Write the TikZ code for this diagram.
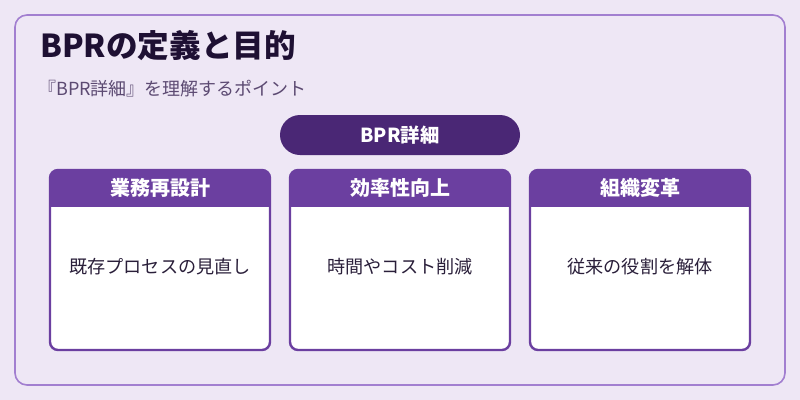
\documentclass[tikz,border=0pt]{standalone}
\usepackage{fontspec}
\setmainfont{Noto Sans CJK JP}
\usepackage{tikz}
\definecolor{bgcol}{HTML}{EEE7F5}
\definecolor{panelline}{HTML}{A27FD0}
\definecolor{headcol}{HTML}{6B3FA0}
\definecolor{pillcol}{HTML}{4A2775}
\definecolor{titlecol}{HTML}{1E1033}
\definecolor{subcol}{HTML}{5C4A72}
\definecolor{bodycol}{HTML}{2A1F3A}
\tikzset{
    every picture/.append style={x=0.75pt, y=-0.75pt},
    panel/.style={draw=panelline, line width=1.2pt, fill=bgcol,
        rounded corners=9pt},
    pill/.style={rectangle, fill=pillcol, rounded corners=15pt,
        minimum width=180pt, minimum height=30pt, inner sep=0pt},
    card/.style={rectangle, draw=headcol, line width=1.8pt, fill=white,
        rounded corners=6pt, minimum width=165pt, minimum height=135pt,
        inner sep=0pt,
        path picture={\fill[headcol, sharp corners]
            (path picture bounding box.north west)
            rectangle ([yshift=-27.75pt]path picture bounding box.north east);}},
    headtext/.style={text=white, font=\fontsize{15}{18}\selectfont\bfseries},
    bodytext/.style={text=bodycol, font=\fontsize{13.6}{16}\selectfont}
}

\begin{document}
\begin{tikzpicture}
  \useasboundingbox (0,0) rectangle (800,400);
  \fill[bgcol] (0,0) rectangle (800,400);
  \draw[panel] (15,15) rectangle (785,385);

  \node (title) [anchor=base west, inner sep=0pt, text=titlecol,
    font=\fontsize{23.7}{28}\selectfont\bfseries] at (40,57) {BPRの定義と目的};
  \node (sub) [anchor=base west, inner sep=0pt, text=subcol,
    font=\fontsize{13.5}{16}\selectfont] at (38,95) {『BPR詳細』を理解するポイント};

  \node (pill) [pill] at (400,135) {};
  \node (pilltext) [text=white, font=\fontsize{14.5}{17}\selectfont\bfseries]
    at (400,135) {BPR詳細};

  \node (c1) [card] at (160,260) {};
  \node (c2) [card] at (400,260) {};
  \node (c3) [card] at (640,260) {};

  \node (h1) [headtext] at (160,188) {業務再設計};
  \node (h2) [headtext] at (400,188) {効率性向上};
  \node (h3) [headtext] at (640,188) {組織変革};

  \node (b1) [bodytext] at (160,267) {既存プロセスの見直し};
  \node (b2) [bodytext] at (400,267) {時間やコスト削減};
  \node (b3) [bodytext] at (640,267) {従来の役割を解体};
\end{tikzpicture}
\end{document}
